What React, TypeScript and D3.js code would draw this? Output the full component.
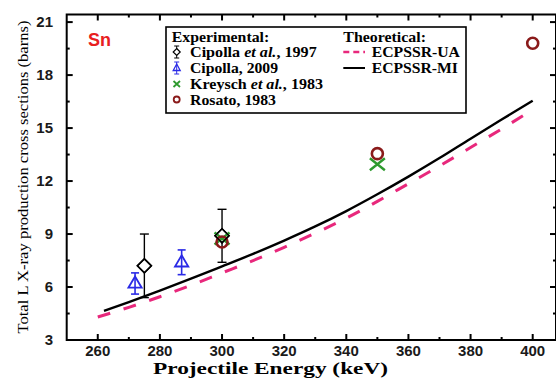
import React from 'react';
import * as d3 from 'd3';

// values
const energyMajor = [260, 280, 300, 320, 340, 360, 380, 400];
const energyMinor = [270, 290, 310, 330, 350, 370, 390];
const sigmaMajor = [3, 6, 9, 12, 15, 18, 21];
const sigmaMinor = [4.5, 7.5, 10.5, 13.5, 16.5, 19.5];

const uaEnergy = [260, 270, 280, 290, 300, 310, 320, 330, 340, 350, 360, 370, 380, 390, 400];
const uaSigma = [4.3, 4.85, 5.45, 6.1, 6.8, 7.5, 8.25, 9.05, 9.9, 10.85, 11.85, 12.85, 13.9, 14.95, 16.05];
const miEnergy = [262, 270, 280, 290, 300, 310, 320, 330, 340, 350, 360, 370, 380, 390, 400];
const miSigma = [4.65, 5.15, 5.8, 6.47, 7.17, 7.88, 8.63, 9.43, 10.3, 11.25, 12.25, 13.3, 14.4, 15.48, 16.55];

const cipolla1997 = [
  { e: 275, v: 7.2, err: 1.8 },
  { e: 300, v: 8.9, err: 1.5 },
];
const cipolla2009 = [
  { e: 272, v: 6.2, err: 0.6 },
  { e: 287, v: 7.4, err: 0.7 },
];
const kreysch = [
  { e: 300, v: 8.75 },
  { e: 350, v: 12.95 },
];
const rosato = [
  { e: 300, v: 8.55 },
  { e: 350, v: 13.55 },
  { e: 400, v: 19.8 },
];

const PINK = '#e8287c';
const BLUE = '#2a2ae6';
const GREEN = '#2e9a2e';
const DRED = '#8a1a1a';
const serif = '"Liberation Serif", "Times New Roman", serif';
const sans = '"Liberation Sans", Arial, sans-serif';

const diamondPath = (x: number, y: number, r: number) => `M${x},${y - r}L${x + r},${y}L${x},${y + r}L${x - r},${y}Z`;

const Triangle = ({ x, y, r }: { x: number; y: number; r: number }) => (
  <path
    d={`M${x},${y - r}L${x + r * 0.95},${y + r * 0.6}L${x - r * 0.95},${y + r * 0.6}Z`}
    fill="none"
    stroke={BLUE}
    strokeWidth={1.8}
  />
);
const Cross = ({ x, y, r }: { x: number; y: number; r: number }) => (
  <path d={`M${x - r},${y - r * 0.8}L${x + r},${y + r * 0.8}M${x - r},${y + r * 0.8}L${x + r},${y - r * 0.8}`} stroke={GREEN} strokeWidth={2.4} />
);
const ErrBar = ({ x, y0, y1, c, w, color }: { x: number; y0: number; y1: number; c: number; w: number; color: string }) => (
  <g stroke={color} strokeWidth={w}>
    <line x1={x} x2={x} y1={y0} y2={y1} />
    <line x1={x - c} x2={x + c} y1={y0} y2={y0} />
    <line x1={x - c} x2={x + c} y1={y1} y2={y1} />
  </g>
);

export default function App() {
  const left = 66.7, right = 556, top = 14.5, bottom = 340;
  const x = d3.scaleLinear().domain([250, 407.5]).range([left, right]);
  const y = d3.scaleLinear().domain([3, 21.43]).range([bottom, top]);

  const line = d3
    .line<[number, number]>()
    .x((d) => x(d[0]))
    .y((d) => y(d[1]))
    .curve(d3.curveMonotoneX);
  const uaPath = line(uaEnergy.map((e, i) => [e, uaSigma[i]]) as [number, number][]) || '';
  const miPath = line(miEnergy.map((e, i) => [e, miSigma[i]]) as [number, number][]) || '';

  const lg = { left: 166, top: 27, right: 466, bottom: 113 };
  const rows = [52, 68, 84, 99.5];

  return (
    <svg width={556} height={378} style={{ position: 'absolute', left: 0, top: 0, background: 'white' }}>
      <rect x={0} y={0} width={556} height={378} fill="white" />

      {/* ticks */}
      <g stroke="black" strokeWidth={2}>
        {energyMajor.map((e) => (
          <g key={'xm' + e}>
            <line x1={x(e)} x2={x(e)} y1={bottom} y2={bottom - 6} />
            <line x1={x(e)} x2={x(e)} y1={top} y2={top + 6} />
          </g>
        ))}
        {energyMinor.map((e) => (
          <g key={'xn' + e}>
            <line x1={x(e)} x2={x(e)} y1={bottom} y2={bottom - 3} />
            <line x1={x(e)} x2={x(e)} y1={top} y2={top + 3} />
          </g>
        ))}
        {sigmaMajor.map((s) => (
          <g key={'ym' + s}>
            <line x1={left} x2={left + 6} y1={y(s)} y2={y(s)} />
            <line x1={right} x2={right - 6} y1={y(s)} y2={y(s)} />
          </g>
        ))}
        {sigmaMinor.map((s) => (
          <g key={'yn' + s}>
            <line x1={left} x2={left + 3} y1={y(s)} y2={y(s)} />
            <line x1={right} x2={right - 3} y1={y(s)} y2={y(s)} />
          </g>
        ))}
      </g>
      <rect x={left} y={top} width={right - left} height={bottom - top} fill="none" stroke="black" strokeWidth={2} />

      {/* tick labels */}
      <g fontFamily={sans} fontWeight="bold" fontSize={15} fill="#1a1a1a">
        {energyMajor.map((e) => (
          <text key={'xl' + e} x={x(e)} y={356} textAnchor="middle">
            {e}
          </text>
        ))}
        {sigmaMajor.map((s) => (
          <text key={'yl' + s} x={53} y={y(s) + 5} textAnchor="end">
            {s}
          </text>
        ))}
      </g>

      {/* axis titles */}
      <text x={270.5} y={373.5} textAnchor="middle" fontFamily={serif} fontWeight="bold" fontSize={16.5} textLength={235} lengthAdjust="spacingAndGlyphs">
        Projectile Energy (keV)
      </text>
      <text
        transform={`translate(28,177) rotate(-90)`}
        textAnchor="middle"
        fontFamily={serif}
        fontSize={15.5}
        textLength={313}
        lengthAdjust="spacingAndGlyphs"
      >
        Total L X-ray production cross sections (barns)
      </text>

      <text x={88} y={46} fontFamily={sans} fontWeight="bold" fontSize={18} fill="#e8201e">
        Sn
      </text>

      {/* theory curves */}
      <path d={uaPath} fill="none" stroke={PINK} strokeWidth={3} strokeDasharray="13,14" />
      <path d={miPath} fill="none" stroke="black" strokeWidth={2.4} />

      {/* experiments */}
      {cipolla2009.map((d, i) => (
        <g key={'c9' + i}>
          <ErrBar x={x(d.e)} y0={y(d.v + d.err)} y1={y(d.v - d.err)} c={4} w={1.6} color={BLUE} />
          <Triangle x={x(d.e)} y={y(d.v)} r={7} />
        </g>
      ))}
      {cipolla1997.map((d, i) => (
        <g key={'c7' + i}>
          <ErrBar x={x(d.e)} y0={y(d.v + d.err)} y1={y(d.v - d.err)} c={4.5} w={1.4} color="black" />
          <path d={diamondPath(x(d.e), y(d.v), 7)} fill="white" stroke="black" strokeWidth={1.6} />
        </g>
      ))}
      {kreysch.map((d, i) => (
        <Cross key={'k' + i} x={x(d.e)} y={y(d.v)} r={7.5} />
      ))}
      {rosato.map((d, i) => (
        <circle key={'r' + i} cx={x(d.e)} cy={y(d.v)} r={5.5} fill="none" stroke={DRED} strokeWidth={2.6} />
      ))}
      {cipolla1997.map((d, i) => (
        <path key={'c7o' + i} d={diamondPath(x(d.e), y(d.v), 7)} fill="none" stroke="black" strokeWidth={1.4} />
      ))}

      {/* legend */}
      <rect x={lg.left} y={lg.top} width={lg.right - lg.left} height={lg.bottom - lg.top} fill="white" stroke="black" strokeWidth={1.6} />
      <g fontFamily={serif} fontWeight="bold" fontSize={14} fill="black">
        <text x={171.7} y={41.5} textLength={97.6} lengthAdjust="spacingAndGlyphs">
          Experimental:
        </text>
        <text x={343.3} y={41.5} textLength={82.7} lengthAdjust="spacingAndGlyphs">
          Theoretical:
        </text>
        <text x={190} y={rows[0] + 5} textLength={126.7} lengthAdjust="spacingAndGlyphs">
          Cipolla <tspan fontStyle="italic">et al.</tspan>, 1997
        </text>
        <text x={190} y={rows[1] + 5} textLength={88} lengthAdjust="spacingAndGlyphs">
          Cipolla, 2009
        </text>
        <text x={190} y={rows[2] + 5} textLength={133} lengthAdjust="spacingAndGlyphs">
          Kreysch <tspan fontStyle="italic">et al.</tspan>, 1983
        </text>
        <text x={190} y={rows[3] + 5} textLength={86} lengthAdjust="spacingAndGlyphs">
          Rosato, 1983
        </text>
        <text x={371.7} y={rows[0] + 5} textLength={88.3} lengthAdjust="spacingAndGlyphs">
          ECPSSR-UA
        </text>
        <text x={371.7} y={rows[1] + 5} textLength={86.3} lengthAdjust="spacingAndGlyphs">
          ECPSSR-MI
        </text>
      </g>
      <ErrBar x={176.7} y0={rows[0] - 6} y1={rows[0] + 6} c={2.5} w={1} color="black" />
      <path d={diamondPath(176.7, rows[0], 3.5)} fill="white" stroke="black" strokeWidth={1.2} />
      <ErrBar x={176.7} y0={rows[1] - 6} y1={rows[1] + 6} c={2.5} w={1} color={BLUE} />
      <path d={`M176.7,${rows[1] - 4}L180.2,${rows[1] + 2.5}L173.2,${rows[1] + 2.5}Z`} fill="none" stroke={BLUE} strokeWidth={1.3} />
      <path d={`M173.5,${rows[2] - 3}L180,${rows[2] + 3}M173.5,${rows[2] + 3}L180,${rows[2] - 3}`} stroke={GREEN} strokeWidth={1.8} />
      <circle cx={176.7} cy={rows[3]} r={3} fill="none" stroke={DRED} strokeWidth={1.8} />
      <line x1={343.3} x2={365} y1={rows[0]} y2={rows[0]} stroke={PINK} strokeWidth={2.4} strokeDasharray="6,4" />
      <line x1={343.3} x2={365} y1={rows[1]} y2={rows[1]} stroke="black" strokeWidth={2} />
    </svg>
  );
}
